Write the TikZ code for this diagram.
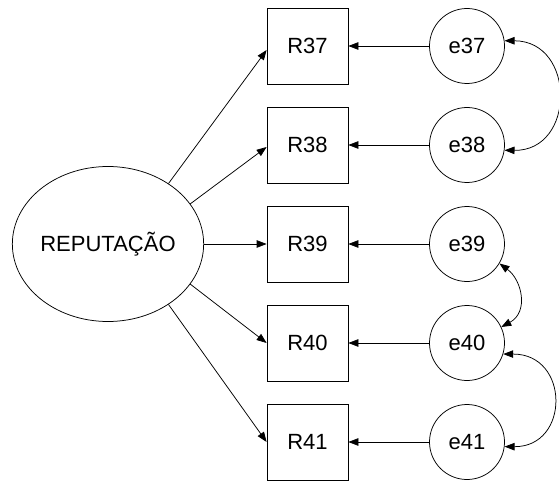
\documentclass[tikz,border=0pt]{standalone}
\usepackage{fontspec}
\setmainfont{Liberation Sans}
\usetikzlibrary{arrows.meta,shapes.geometric}
\begin{document}
\begin{tikzpicture}[x=1pt,y=1pt,line width=0.75pt,
  lbl/.style={font=\fontsize{22}{26}\selectfont},
  latent/.style={draw,ellipse,lbl,minimum width=190pt,minimum height=155pt,inner sep=0pt},
  item/.style={draw,rectangle,lbl,minimum width=81pt,minimum height=76pt,inner sep=0pt},
  err/.style={draw,circle,lbl,minimum size=75pt,inner sep=0pt},
  tip/.style={-{Triangle[length=10pt,width=7.5pt]}},
  both/.style={{Triangle[length=10pt,width=7.5pt]}-{Triangle[length=10pt,width=7.5pt]}}]
\useasboundingbox (0,0) rectangle (559,480);
\node[latent] (rep) at (108,236) {REPUTAÇÃO};
\node[item] (R37) at (307.5,434) {R37};
\node[item] (R38) at (307.5,335) {R38};
\node[item] (R39) at (307.5,236) {R39};
\node[item] (R40) at (307.5,137) {R40};
\node[item] (R41) at (307.5,38) {R41};
\node[err] (e37) at (467,434) {e37};
\node[err] (e38) at (467,335) {e38};
\node[err] (e39) at (467,236) {e39};
\node[err] (e40) at (467,137) {e40};
\node[err] (e41) at (467,38) {e41};
\draw[tip] (rep.45) -- ([yshift=-4pt]R37.west);
\draw[tip] (rep.26.7) -- ([yshift=-2pt]R38.west);
\draw[tip] (rep.0) -- (R39.west);
\draw[tip] (rep.-26.7) -- (R40.west);
\draw[tip] (rep.-45) -- (R41.west);
\draw[tip] (e37) -- (R37);
\draw[tip] (e38) -- (R38);
\draw[tip] (e39) -- (R39);
\draw[tip] (e40) -- (R40);
\draw[tip] (e41) -- (R41);
\draw[both] (e37.8) .. controls (576,439) and (576,329) .. (e38.-8);
\draw[both] (e39.-31) .. controls (522,200) and (529,168) .. (e40.25);
\draw[both] (e40.-17) .. controls (570,126) and (570,33) .. (e41.-7);
\end{tikzpicture}
\end{document}
